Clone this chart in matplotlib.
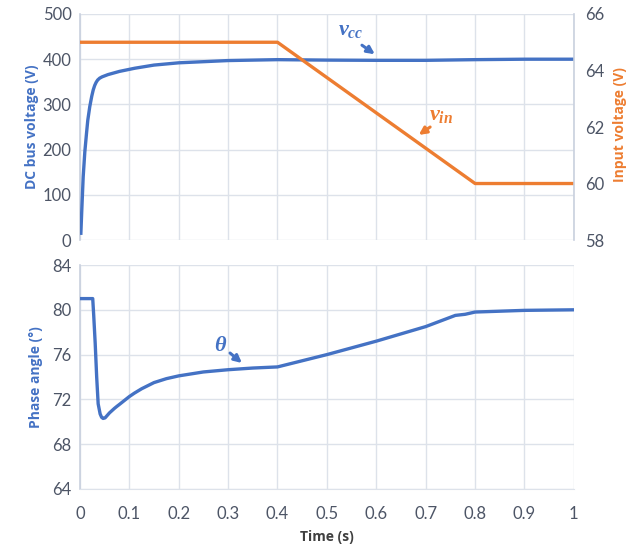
import matplotlib
matplotlib.use("Agg")
import matplotlib.pyplot as plt
import numpy as np

plt.rcParams['font.family'] = ['Lato', 'DejaVu Sans']
plt.rcParams['mathtext.fontset'] = 'custom'
plt.rcParams['mathtext.it'] = 'Liberation Serif:italic:bold'
plt.rcParams['mathtext.rm'] = 'Liberation Serif:bold'

# data
t_vcc = [0.002, 0.004, 0.0067, 0.01, 0.0135, 0.016, 0.02, 0.024, 0.027, 0.03, 0.033,
         0.036, 0.04, 0.045, 0.057, 0.08, 0.111, 0.15, 0.2, 0.3, 0.4, 0.5, 0.6,
         0.7, 0.8, 0.9, 1.0]
vcc = [15, 70, 140, 195, 237, 265, 295, 318, 332, 342, 349,
       354, 358, 361, 366, 373, 380, 387, 392, 397, 399, 398, 397.5,
       397.5, 399, 400, 400]

t_vin = [0.0, 0.4, 0.8, 1.0]
vin = [65, 65, 60, 60]

t_theta = [0.0, 0.026, 0.028, 0.031, 0.034, 0.037, 0.041, 0.044, 0.047, 0.051, 0.055,
           0.06, 0.065, 0.07, 0.075, 0.08, 0.09, 0.1, 0.11, 0.125, 0.15, 0.175, 0.2,
           0.25, 0.3, 0.35, 0.4, 0.5, 0.6, 0.7, 0.76, 0.78, 0.8, 0.9, 1.0]
theta = [81, 81, 79.5, 77, 74, 71.6, 70.7, 70.4, 70.3, 70.35, 70.55,
         70.8, 71.0, 71.2, 71.38, 71.55, 71.9, 72.25, 72.55, 72.95, 73.5, 73.85, 74.1,
         74.45, 74.65, 74.8, 74.9, 76.0, 77.2, 78.5, 79.5, 79.6, 79.8, 79.95, 80.0]

x_ticks = [0, 0.1, 0.2, 0.3, 0.4, 0.5, 0.6, 0.7, 0.8, 0.9, 1]
x_labels = ['0', '0.1', '0.2', '0.3', '0.4', '0.5', '0.6', '0.7', '0.8', '0.9', '1']

blue = '#4472C4'
orange = '#ED7D31'
grid_c = '#DDE2EA'
spine_c = '#C9D1DE'
tick_c = '#4D5566'
lab_font = ['Open Sans', 'DejaVu Sans']

fig = plt.figure(figsize=(6.29, 5.49), dpi=100)
ax1 = fig.add_axes([0.127, 0.5628, 0.7854, 0.4117])
ax2 = fig.add_axes([0.127, 0.1093, 0.7854, 0.408])


def style(ax):
    ax.set_xlim(0, 1)
    ax.set_xticks(x_ticks)
    ax.grid(True, color=grid_c, lw=1)
    ax.set_axisbelow(True)
    for s in ['top', 'right', 'bottom']:
        ax.spines[s].set_visible(False)
    ax.spines['left'].set_color(spine_c)
    ax.spines['left'].set_linewidth(1.2)
    ax.tick_params(length=0, labelsize=12, colors=tick_c, pad=6)


style(ax1)
ax1.set_ylim(0, 500)
ax1.set_yticks([0, 100, 200, 300, 400, 500])
ax1.set_xticklabels([])
ax1.plot(t_vcc, vcc, color=blue, lw=2.4, zorder=3)
ax1.set_ylabel('DC bus voltage (V)', color=blue, fontsize=10, fontweight='bold',
               family=lab_font, labelpad=3)

ax1r = ax1.twinx()
ax1r.set_ylim(58, 66)
ax1r.set_yticks([58, 60, 62, 64, 66])
for s in ['top', 'left', 'bottom']:
    ax1r.spines[s].set_visible(False)
ax1r.spines['right'].set_color(spine_c)
ax1r.spines['right'].set_linewidth(1.2)
ax1r.tick_params(length=0, labelsize=12, colors=tick_c, pad=8)
ax1r.plot(t_vin, vin, color=orange, lw=2.4, zorder=2)
fig.text(0.986, 0.774, 'Input voltage (V)', rotation=90, color=orange, fontsize=10,
         fontweight='bold', family=lab_font, ha='center', va='center')

arrow_kw = dict(arrowstyle='-|>', lw=2.2, mutation_scale=11, shrinkA=0, shrinkB=0)
ax1.annotate('', xy=(0.597, 411), xytext=(0.571, 431),
             arrowprops=dict(color=blue, **arrow_kw))
ax1.text(0.549, 465, r'$v_{cc}$', color=blue, fontsize=16, ha='center', va='center')
ax1r.annotate('', xy=(0.686, 61.72), xytext=(0.709, 62.0),
              arrowprops=dict(color=orange, **arrow_kw))
ax1r.text(0.731, 62.42, r'$v_{in}$', color=orange, fontsize=16, ha='center', va='center')

style(ax2)
ax2.spines['bottom'].set_visible(True)
ax2.spines['bottom'].set_color(grid_c)
ax2.set_ylim(64, 84)
ax2.set_yticks([64, 68, 72, 76, 80, 84])
ax2.set_xticklabels(x_labels)
ax2.tick_params(axis='x', pad=12)
ax2.plot(t_theta, theta, color=blue, lw=2.4, zorder=3)
ax2.set_ylabel('Phase angle (°)', color=blue, fontsize=10, fontweight='bold',
               family=lab_font, labelpad=7)
ax2.set_xlabel('Time (s)', color='#404040', fontsize=10, fontweight='bold',
               family=lab_font, labelpad=6)
ax2.annotate('', xy=(0.328, 75.25), xytext=(0.304, 76.14),
             arrowprops=dict(color=blue, **arrow_kw))
ax2.text(0.285, 76.86, r'$\theta$', color=blue, fontsize=16, ha='center', va='center')

fig.savefig('out.png', dpi=100)
